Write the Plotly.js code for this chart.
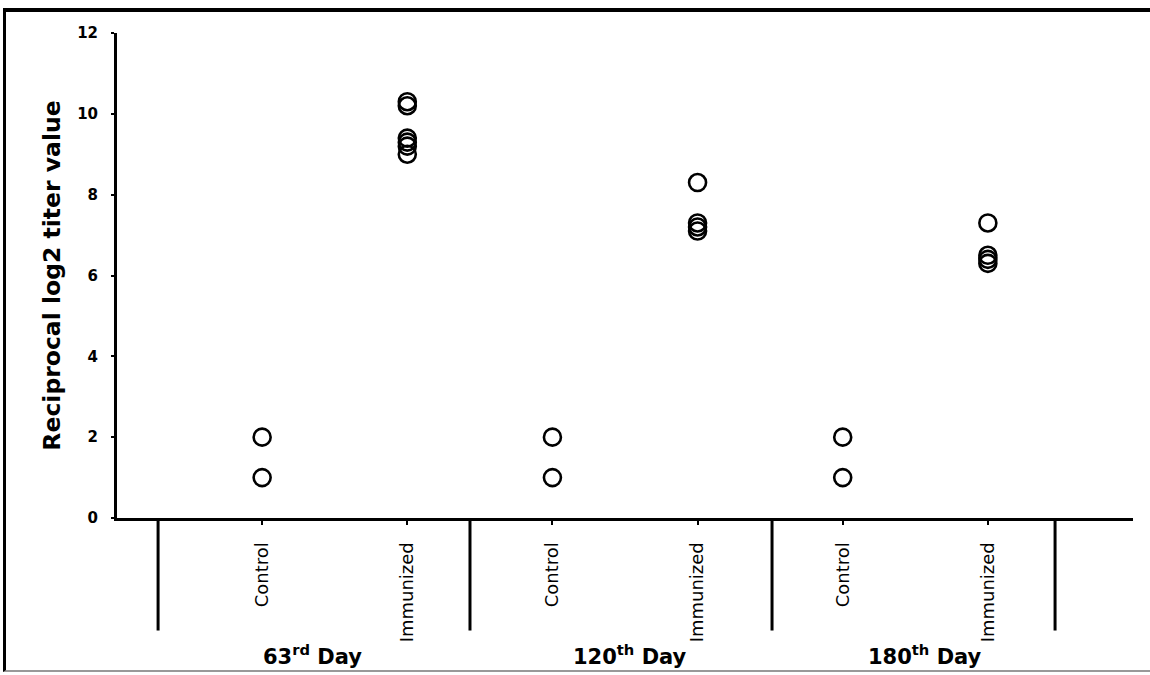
<!DOCTYPE html>
<html>
<head>
<meta charset="utf-8">
<script src="https://cdn.plot.ly/plotly-3.0.1.min.js"></script>
<style>
  html, body { margin: 0; padding: 0; background: #fff; }
  #chart { width: 1150px; height: 675px; position: absolute; left: 0; top: 0; }
  #frame { position: absolute; left: 3px; top: 8px; width: 1147px; height: 664px;
           border-top: 4px solid #000; border-left: 3px solid #000; border-bottom: 2px solid #999;
           box-sizing: border-box; pointer-events: none; }
</style>
</head>
<body>
<div id="chart"></div>
<div id="frame"></div>
<script>
// ---- data ----
const days = ["63<sup>rd</sup> Day", "120<sup>th</sup> Day", "180<sup>th</sup> Day"];
const groups = ["Control", "Immunized"];
const controlValues = [
  [2, 1],
  [2, 1],
  [2, 1]
];
const immunizedValues = [
  [10.3, 10.2, 9.4, 9.3, 9.2, 9.0],
  [8.3, 7.3, 7.2, 7.1],
  [7.3, 6.5, 6.4, 6.3]
];
const yTicks = [0, 2, 4, 6, 8, 10, 12];

// ---- build points ----
const xs = [], ys = [];
const tickvals = [], ticktext = [];
days.forEach((d, i) => {
  [controlValues[i], immunizedValues[i]].forEach((vals, g) => {
    const pos = i * 2 + g;
    tickvals.push(pos);
    ticktext.push(groups[g]);
    vals.forEach(v => { xs.push(pos); ys.push(v); });
  });
});

const FONT = "DejaVu Sans, Verdana, sans-serif";

const trace = {
  type: "scatter",
  mode: "markers",
  x: xs,
  y: ys,
  marker: { symbol: "circle-open", size: 17, color: "#000", line: { width: 2.6, color: "#000" } },
  hoverinfo: "x+y",
  showlegend: false,
  cliponaxis: false
};

// separators between day groups and day labels
const sepX = [-0.717, 1.432, 3.513, 5.463];
const shapes = sepX.map(x => ({
  type: "line", xref: "x", yref: "paper", x0: x, x1: x, y0: 0, y1: -0.232,
  line: { color: "#000", width: 3 }
}));
const dayLabelX = [0.35, 2.535, 4.567];
const annotations = days.map((d, i) => ({
  text: d, xref: "x", yref: "paper", x: dayLabelX[i], y: -0.282,
  showarrow: false, xanchor: "center", yanchor: "middle",
  font: { family: FONT, size: 21, color: "#000", weight: "bold" }
}));

const layout = {
  width: 1150, height: 675,
  margin: { l: 117, r: 17, t: 33, b: 157 },
  paper_bgcolor: "#fff", plot_bgcolor: "#fff",
  font: { family: FONT, color: "#000" },
  xaxis: {
    range: [-1, 6], showgrid: false, zeroline: false,
    showline: true, linecolor: "#000", linewidth: 3,
    tickmode: "array", tickvals: tickvals, ticktext: ticktext,
    ticks: "outside", ticklen: 4, tickwidth: 2, tickcolor: "#000",
    tickangle: -90, ticklabelstandoff: 10,
    tickfont: { family: FONT, size: 18, color: "#000" }
  },
  yaxis: {
    range: [0, 12], showgrid: false, zeroline: false,
    showline: true, linecolor: "#000", linewidth: 3,
    tickmode: "array", tickvals: yTicks,
    ticks: "outside", ticklen: 3, tickwidth: 2, tickcolor: "#000",
    ticklabelstandoff: 10,
    tickfont: { family: FONT, size: 15, color: "#000", weight: "bold" },
    title: { text: "Reciprocal log2 titer value", standoff: 10,
             font: { family: FONT, size: 23.5, color: "#000", weight: "bold" } }
  },
  shapes: shapes,
  annotations: annotations
};

Plotly.newPlot("chart", [trace], layout, { displayModeBar: false, staticPlot: true });
</script>
</body>
</html>
